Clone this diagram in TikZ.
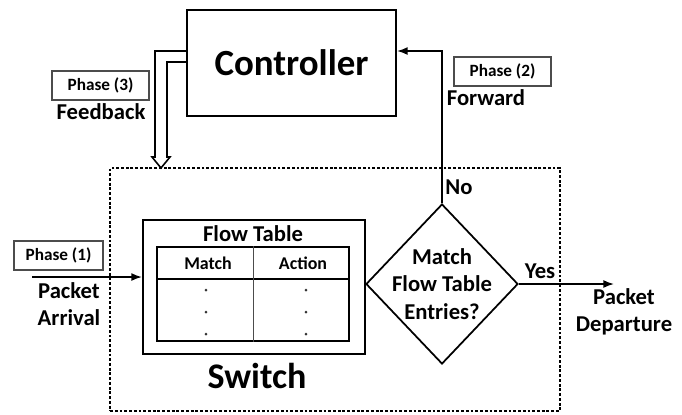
\documentclass[tikz,border=0pt]{standalone}
\usepackage{fontspec}
\setmainfont{Carlito}
\usetikzlibrary{arrows.meta,shapes.geometric,calc}

\tikzset{
  box/.style={draw=black, line width=1.2pt, inner sep=0pt},
  phasebox/.style={draw=black!70, line width=0.6pt, minimum height=0.58cm, inner sep=0pt, font=\fontsize{9.8}{11}\selectfont\bfseries},
  lbl/.style={align=center, inner sep=0pt, font=\fontsize{12.9}{15.6}\selectfont\bfseries},
  flow/.style={line width=0.9pt, -{Latex[length=6pt,width=4.5pt]}},
  decision/.style={diamond, draw=black, line width=1pt, minimum width=3.04cm, minimum height=3.2cm, inner sep=0pt},
  area/.style={draw=black, line width=1.1pt, dash pattern=on 1.6pt off 1.1pt, inner sep=0pt},
  dot/.style={circle, fill=black!80, minimum size=1.7pt, inner sep=0pt}
}

\begin{document}
\begin{tikzpicture}[x=0.02cm, y=-0.02cm]
\useasboundingbox (0,0) rectangle (682,414);

\node[area, minimum width=9cm, minimum height=4.86cm](area) at (335,289.5) {};
\node[box, minimum width=4.18cm, minimum height=2.12cm, font=\fontsize{21}{25}\selectfont\bfseries](ctrl) at (291.5,63) {Controller};
\node[box, minimum width=4.44cm, minimum height=2.68cm](switch) at (254,287) {};
\node[lbl, font=\fontsize{20.5}{24}\selectfont\bfseries](switchlbl) at (257,376) {Switch};
\node[lbl](ftlbl) at (253,234) {Flow Table};

\node[draw=black, line width=0.9pt, minimum width=3.84cm, minimum height=1.88cm, inner sep=0pt](table) at (253,294) {};
\draw[line width=0.9pt] (table.west |- 0,279) -- (table.east |- 0,279);
\draw[line width=0.5pt, black!70] (table.north) -- (table.south);
\node[lbl, font=\fontsize{10.2}{12}\selectfont\bfseries](match) at (208,263) {Match};
\node[lbl, font=\fontsize{10.2}{12}\selectfont\bfseries](action) at (303,263) {Action};
\foreach \y in {290,312,334} {
  \node[dot] at (206,\y) {};
  \node[dot] at (306,\y) {};
}

\node[decision](decide) at (442,284) {};
\node[lbl](decidelbl) at (decide) {Match\\Flow Table\\Entries?};

\coordinate (arrive) at (32,277);
\coordinate (depart) at (614,284);
\path[flow] (arrive) edge ($(switch.west)+(0,-10)$);
\path[flow] (decide.east) edge (depart);
\draw[flow] (decide.north) |- ($(ctrl.east)+(0,-12)$);

\draw[line width=0.9pt, line join=miter] ($(ctrl.west)+(0,-12)$) -- (155,51) -- (155,157) -- (152,157) -- (161,168) -- (170,157) -- (167,157) -- (167,62) -- ($(ctrl.west)+(0,-1)$);

\node[phasebox, minimum width=1.94cm](ph3) at (100.5,85.5) {Phase (3)};
\node[lbl](feedback) at (101,112) {Feedback};
\node[phasebox, minimum width=1.94cm](ph2) at (502.5,71.5) {Phase (2)};
\node[lbl](forward) at (486,98) {Forward};
\node[phasebox, minimum width=1.78cm](ph1) at (58.5,255.5) {Phase (1)};
\node[lbl](arrival) at (69,304) {Packet\\Arrival};
\node[lbl](no) at (459,187) {No};
\node[lbl](yes) at (540,271) {Yes};
\node[lbl](departure) at (624,312) {Packet\\Departure};
\end{tikzpicture}
\end{document}
